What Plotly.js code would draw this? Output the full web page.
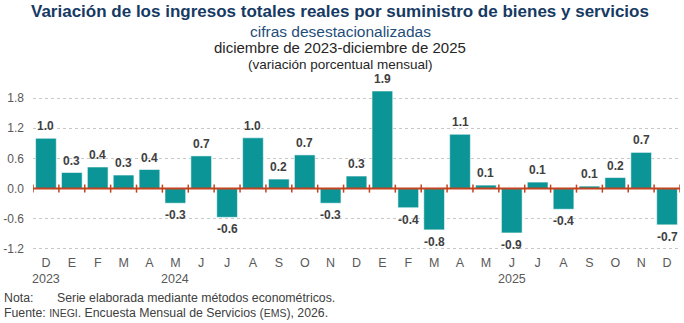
<!DOCTYPE html>
<html><head><meta charset="utf-8">
<script src="https://cdn.plot.ly/plotly-3.0.1.min.js"></script>
<style>html,body{margin:0;padding:0;background:#fff;}#chart{width:684px;height:323px;}</style>
</head><body><div id="chart"></div>
<script>
const months = ["D","E","F","M","A","M","J","J","A","S","O","N","D","E","F","M","A","M","J","J","A","S","O","N","D"];
const values = [1.00,0.32,0.43,0.27,0.38,-0.29,0.65,-0.57,1.01,0.19,0.67,-0.29,0.25,1.94,-0.38,-0.82,1.08,0.07,-0.88,0.13,-0.41,0.05,0.22,0.72,-0.72];
const labels = ["1.0","0.3","0.4","0.3","0.4","-0.3","0.7","-0.6","1.0","0.2","0.7","-0.3","0.3","1.9","-0.4","-0.8","1.1","0.1","-0.9","0.1","-0.4","0.1","0.2","0.7","-0.7"];
const yearLabels = ["2023","2024","2025"];
const yearIndex = [0,5,18];
const yTicks = [-1.2,-0.6,0.0,0.6,1.2,1.8];
const titleLines = [
  "Variación de los ingresos totales reales por suministro de bienes y servicios",
  "cifras desestacionalizadas",
  "diciembre de 2023-diciembre de 2025",
  "(variación porcentual mensual)"
];
const notaLabel = "Nota:";
const notaText = "Serie elaborada mediante métodos econométricos.";
const fuenteText = 'Fuente: <span style="font-size:10.5px">INEGI</span>. Encuesta Mensual de Servicios (<span style="font-size:10.5px">EMS</span>), 2026.';

const W = 684, H = 323;
const M = {l:33, r:4, t:88, b:73};
const pw = W - M.l - M.r, ph = H - M.t - M.b;
const px = x => (x - M.l) / pw;
const py = y => (H - M.b - y) / ph;

const FONT = "Liberation Sans, Arial, sans-serif";
const RED = "#c4421d";
const idx = months.map((m,i)=>i);

const annotations = [];
// Data labels
values.forEach((v,i)=>{
  annotations.push({x:i, y:v, xref:'x', yref:'y', text:labels[i], showarrow:false,
    yanchor: v>=0?'bottom':'top', yshift: v>=0?3:-3,
    font:{family:FONT, size:12, color:'#404040', weight:'bold'}});
});
// Year labels
yearLabels.forEach((t,k)=>{
  annotations.push({x:yearIndex[k], y:py(279), xref:'x', yref:'paper', text:t, showarrow:false,
    yanchor:'middle', font:{family:FONT, size:12.5, color:'#595959'}});
});
// Titles
const tSpec = [
  {y:11.5, size:17, color:'#163a63', weight:'bold'},
  {y:31, size:15.5, color:'#1f4e79', weight:'normal'},
  {y:47.5, size:15, color:'#262626', weight:'normal'},
  {y:64, size:13.5, color:'#262626', weight:'normal'}
];
titleLines.forEach((t,k)=>{
  annotations.push({x:px(340), y:py(tSpec[k].y), xref:'paper', yref:'paper', text:t, showarrow:false,
    xanchor:'center', yanchor:'middle',
    font:{family:FONT, size:tSpec[k].size, color:tSpec[k].color, weight:tSpec[k].weight}});
});
// Notes
annotations.push({x:px(2), y:py(298), xref:'paper', yref:'paper', text:notaLabel, showarrow:false,
  xanchor:'left', yanchor:'middle', font:{family:FONT, size:12.3, color:'#404040'}});
annotations.push({x:px(55), y:py(298), xref:'paper', yref:'paper', text:notaText, showarrow:false,
  xanchor:'left', yanchor:'middle', font:{family:FONT, size:12.3, color:'#404040'}});
annotations.push({x:px(2), y:py(313), xref:'paper', yref:'paper', text:fuenteText, showarrow:false,
  xanchor:'left', yanchor:'middle', font:{family:FONT, size:12.3, color:'#404040'}});

// Zero line and boundary ticks
const shapes = [{type:'line', xref:'paper', yref:'y', x0:0, x1:1, y0:0, y1:0, layer:'above',
  line:{color:RED, width:2}}];
for (let i=0;i<=months.length;i++){
  shapes.push({type:'line', xref:'x', yref:'y', ysizemode:'pixel', yanchor:0,
    x0:i-0.5, x1:i-0.5, y0:-4, y1:4, layer:'above', line:{color:RED, width:1.5}});
}

const trace = {type:'bar', x:idx, y:values, marker:{color:'#0b9597', line:{color:'rgba(255,255,255,0.55)', width:1}},
  hoverinfo:'skip', cliponaxis:false};

const layout = {
  width:W, height:H, margin:M, paper_bgcolor:'#fff', plot_bgcolor:'#fff',
  showlegend:false, bargap:0.2,
  font:{family:FONT},
  xaxis:{type:'linear', range:[-0.5, months.length-0.5], tickvals:idx, ticktext:months,
    showgrid:false, zeroline:false, showline:false, ticks:'', ticklabelstandoff:3,
    tickfont:{family:FONT, size:12.5, color:'#595959'}, fixedrange:true},
  yaxis:{range:[-1.22, 2.0], tickvals:yTicks, ticktext:yTicks.map(v=>v.toFixed(1)),
    showgrid:true, gridcolor:'#c8c8c8', griddash:'dot', gridwidth:1, zeroline:false,
    showline:false, ticks:'', ticklabelstandoff:8,
    tickfont:{family:FONT, size:12, color:'#595959'}, fixedrange:true},
  annotations, shapes
};
Plotly.newPlot('chart', [trace], layout, {displayModeBar:false, staticPlot:true});
</script>
</body></html>
